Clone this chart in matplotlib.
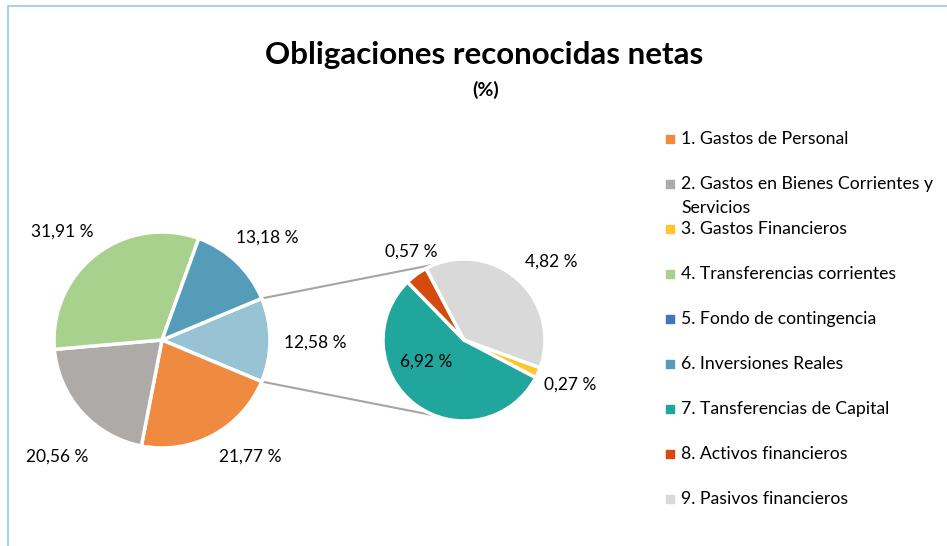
import textwrap
import numpy as np
import matplotlib
matplotlib.use("Agg")
from matplotlib import pyplot as plt

# chapters of the budget (%)
categories = [
    "1. Gastos de Personal",
    "2. Gastos en Bienes Corrientes y Servicios",
    "3. Gastos Financieros",
    "4. Transferencias corrientes",
    "5. Fondo de contingencia",
    "6. Inversiones Reales",
    "7. Tansferencias de Capital",
    "8. Activos financieros",
    "9. Pasivos financieros",
]
values = [21.77, 20.56, 0.27, 31.91, 0.00, 13.18, 6.92, 0.57, 4.82]
colors = ["#EF8A40", "#ADAAA8", "#FFC52E", "#A9D18E", "#4472C4",
          "#559CB8", "#21A69D", "#D54B0E", "#D9D9D9"]
other_color = "#97C3D4"

# main pie order (clockwise) and the split-off part
main_idx = [0, 1, 3, 5]
second_idx = [2, 6, 7, 8]

W, H = 947, 546
plt.rcParams['font.family'] = ['Lato', 'DejaVu Sans']

fig = plt.figure(figsize=(W / 100, H / 100), dpi=100)
ax = fig.add_axes([0, 0, 1, 1])


def fmt(v):
    return f"{v:.2f}".replace(".", ",") + " %"


other_total = sum(values[i] for i in second_idx)
main_vals = [other_total] + [values[i] for i in main_idx]
main_cols = [other_color] + [colors[i] for i in main_idx]

c1, r1 = (162, H - 340), 108
c2, r2 = (464, H - 340), 81

wp = dict(edgecolor="white", linewidth=2.5)
w1, _ = ax.pie(main_vals, colors=main_cols, center=c1, radius=r1,
               startangle=180 * other_total / 100, counterclock=False,
               wedgeprops=wp, normalize=True)
sec_vals = [values[i] for i in second_idx]
w2, _ = ax.pie(sec_vals, colors=[colors[i] for i in second_idx], center=c2,
               radius=r2, startangle=-20, counterclock=False,
               wedgeprops=wp, normalize=True)

ax.set_xlim(0, W)
ax.set_ylim(0, H)
ax.axis("off")

# data labels: (distance factor, angle nudge)
main_lab = [(1.42, -1), (1.35, 9), (1.45, 6), (1.36, 5), (1.36, -2)]
for w, v, (f, d) in zip(w1, main_vals, main_lab):
    a = np.radians((w.theta1 + w.theta2) / 2 + d)
    ax.text(c1[0] + f * r1 * np.cos(a), c1[1] + f * r1 * np.sin(a), fmt(v),
            ha="center", va="center", fontsize=12.5)

sec_lab = [(1.42, 1), (0.54, -23), (1.27, -5), (1.45, -7)]
for w, v, (f, d) in zip(w2, sec_vals, sec_lab):
    a = np.radians((w.theta1 + w.theta2) / 2 + d)
    ax.text(c2[0] + f * r2 * np.cos(a), c2[1] + f * r2 * np.sin(a), fmt(v),
            ha="center", va="center", fontsize=12.5)

# connector lines between the pies
for t1, t2 in [(w1[0].theta2, 111), (w1[0].theta1, -111)]:
    a1, a2 = np.radians(t1), np.radians(t2)
    ax.plot([c1[0] + r1 * np.cos(a1), c2[0] + r2 * np.cos(a2)],
            [c1[1] + r1 * np.sin(a1), c2[1] + r2 * np.sin(a2)],
            color="#A5A5A5", lw=1.5, zorder=0)

# legend
for k, (name, col) in enumerate(zip(categories, colors)):
    y = H - (139 + 45 * k)
    ax.scatter([670], [y], marker="s", s=30, color=col)
    ax.text(681, y + 8, textwrap.fill(name, 32), ha="left", va="top",
            fontsize=12.7, linespacing=1.6)

# titles
fig.text(484 / W, 1 - 55 / H, "Obligaciones reconocidas netas", ha="center",
         va="center", fontsize=22.5, fontweight="bold")
fig.text(486 / W, 1 - 90 / H, "(%)", ha="center", va="center",
         fontsize=14, fontweight="bold")

# chart frame
ax.plot([8, 8, W], [0, H - 6, H - 6], color="#A9D3E5", lw=1.5)

plt.savefig("out.png", dpi=100)
